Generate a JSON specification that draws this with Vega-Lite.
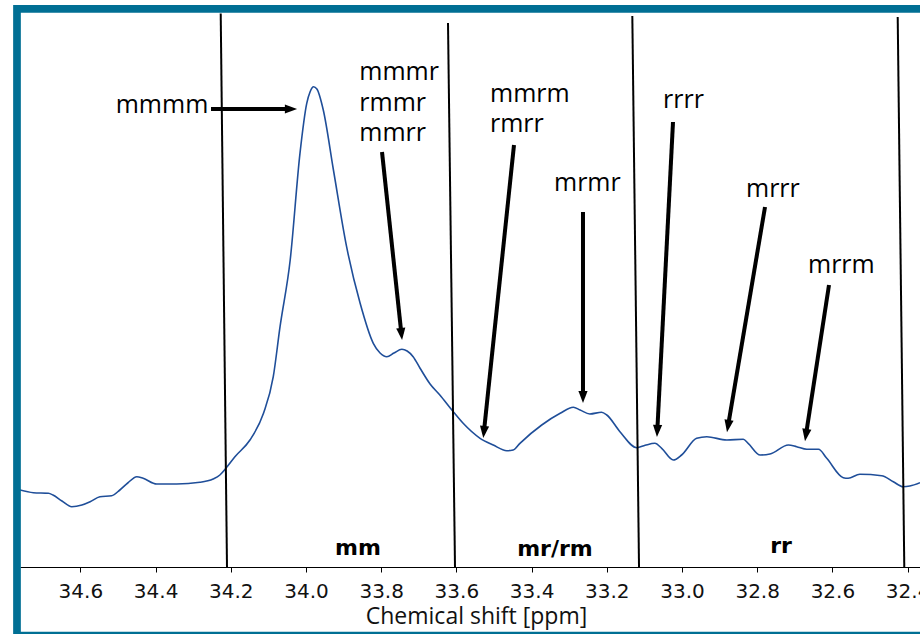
{
  "$schema": "https://vega.github.io/schema/vega-lite/v6.json",
  "autosize": {"type": "none"},
  "width": 900,
  "height": 567,
  "padding": {"left": 20, "top": 0, "right": 0, "bottom": 67},
  "background": "white",
  "config": {"view": {"stroke": null}},
  "datasets": {
    "spectrum": [
      {"x": 34.7606, "y": 7.70}, {"x": 34.725, "y": 7.43}, {"x": 34.685, "y": 7.37}, {"x": 34.673, "y": 7.20},
      {"x": 34.649, "y": 6.60}, {"x": 34.623, "y": 6.03}, {"x": 34.596, "y": 6.20}, {"x": 34.574, "y": 6.53},
      {"x": 34.548, "y": 7.03}, {"x": 34.517, "y": 7.13}, {"x": 34.495, "y": 7.70}, {"x": 34.474, "y": 8.40},
      {"x": 34.450, "y": 9.03}, {"x": 34.433, "y": 8.87}, {"x": 34.397, "y": 8.30}, {"x": 34.344, "y": 8.30},
      {"x": 34.282, "y": 8.47}, {"x": 34.247, "y": 8.80}, {"x": 34.229, "y": 9.20}, {"x": 34.211, "y": 9.97},
      {"x": 34.189, "y": 11.03}, {"x": 34.149, "y": 12.70}, {"x": 34.113, "y": 15.37}, {"x": 34.087, "y": 19.03},
      {"x": 34.069, "y": 24.03}, {"x": 34.042, "y": 30.70}, {"x": 34.016, "y": 41.37}, {"x": 33.998, "y": 46.37},
      {"x": 33.989, "y": 47.53}, {"x": 33.980, "y": 48.03}, {"x": 33.971, "y": 47.80}, {"x": 33.954, "y": 45.70},
      {"x": 33.927, "y": 39.70}, {"x": 33.892, "y": 32.03}, {"x": 33.856, "y": 26.37}, {"x": 33.821, "y": 22.37},
      {"x": 33.803, "y": 21.40}, {"x": 33.785, "y": 21.03}, {"x": 33.766, "y": 21.40}, {"x": 33.745, "y": 21.77},
      {"x": 33.731, "y": 21.60}, {"x": 33.715, "y": 21.03}, {"x": 33.697, "y": 19.90}, {"x": 33.670, "y": 18.30},
      {"x": 33.644, "y": 17.20}, {"x": 33.612, "y": 15.70}, {"x": 33.582, "y": 14.37}, {"x": 33.537, "y": 12.87},
      {"x": 33.502, "y": 12.20}, {"x": 33.466, "y": 11.63}, {"x": 33.449, "y": 11.70}, {"x": 33.431, "y": 12.37},
      {"x": 33.373, "y": 14.20}, {"x": 33.324, "y": 15.37}, {"x": 33.289, "y": 15.97}, {"x": 33.271, "y": 15.70},
      {"x": 33.245, "y": 15.30}, {"x": 33.214, "y": 15.47}, {"x": 33.200, "y": 15.20}, {"x": 33.165, "y": 13.53},
      {"x": 33.120, "y": 11.93}, {"x": 33.098, "y": 12.17}, {"x": 33.072, "y": 12.37}, {"x": 33.054, "y": 11.87},
      {"x": 33.023, "y": 10.70}, {"x": 33.001, "y": 11.20}, {"x": 32.961, "y": 12.87}, {"x": 32.934, "y": 13.03},
      {"x": 32.881, "y": 12.70}, {"x": 32.837, "y": 12.77}, {"x": 32.824, "y": 12.37}, {"x": 32.792, "y": 11.20},
      {"x": 32.766, "y": 11.30}, {"x": 32.717, "y": 12.20}, {"x": 32.695, "y": 12.03}, {"x": 32.668, "y": 11.77},
      {"x": 32.637, "y": 11.77}, {"x": 32.615, "y": 10.87}, {"x": 32.571, "y": 8.93}, {"x": 32.558, "y": 8.87},
      {"x": 32.527, "y": 9.27}, {"x": 32.469, "y": 9.13}, {"x": 32.438, "y": 8.53}, {"x": 32.412, "y": 8.03},
      {"x": 32.394, "y": 8.10}, {"x": 32.367, "y": 8.43}
    ],
    "boundaries": [
      {"x": 34.2268, "y": 55.35, "x2": 34.2101, "y2": 0},
      {"x": 33.6223, "y": 54.4, "x2": 33.6037, "y2": 0},
      {"x": 33.1321, "y": 55.1, "x2": 33.1143, "y2": 0},
      {"x": 32.4263, "y": 55.0, "x2": 32.4088, "y2": 0}
    ],
    "arrows": [
      {"x": 34.2526, "y": 45.8, "x2": 34.0399, "y2": 45.8, "angle": 90},
      {"x": 33.7978, "y": 41.5, "x2": 33.7462, "y2": 23.3, "angle": 173.9},
      {"x": 33.4468, "y": 42.2, "x2": 33.5268, "y2": 13.5, "angle": 186.0},
      {"x": 33.2633, "y": 35.5, "x2": 33.2633, "y2": 17.0, "angle": 180},
      {"x": 33.0239, "y": 44.5, "x2": 33.0657, "y2": 13.6, "angle": 182.9},
      {"x": 32.7792, "y": 36.0, "x2": 32.8776, "y2": 14.09, "angle": 189.6},
      {"x": 32.6090, "y": 28.2, "x2": 32.6704, "y2": 13.19, "angle": 188.7}
    ],
    "leftLabels": [
      {"x": 33.8582, "y": 48.7, "label": "mmmr\nrmmr\nmmrr"},
      {"x": 33.5106, "y": 46.53, "label": "mmrm\nrmrr"},
      {"x": 33.3404, "y": 37.63, "label": "mrmr"},
      {"x": 33.0505, "y": 45.95, "label": "rrrr"},
      {"x": 32.8298, "y": 37.05, "label": "mrrr"},
      {"x": 32.6649, "y": 29.45, "label": "mrrm"}
    ],
    "rightLabels": [
      {"x": 34.2598, "y": 45.43, "label": "mmmm"}
    ],
    "regions": [
      {"x": 33.8617, "y": 1.2, "label": "mm"},
      {"x": 33.3378, "y": 1.1, "label": "mr/rm"},
      {"x": 32.7367, "y": 1.4, "label": "rr"}
    ],
    "frame": [
      {"x": 34.7686, "y": 55.82, "x2": 32.3138, "y2": -6.85}
    ]
  },
  "encoding": {
    "x": {
      "field": "x", "type": "quantitative",
      "scale": {"domain": [32.367, 34.7606], "reverse": true, "nice": false, "zero": false}
    },
    "y": {
      "field": "y", "type": "quantitative",
      "scale": {"domain": [0, 56.7], "nice": false, "zero": false},
      "axis": null
    }
  },
  "layer": [
    {
      "data": {"name": "spectrum"},
      "mark": {"type": "line", "color": "#1f4e99", "strokeWidth": 1.6, "interpolate": "monotone", "clip": true},
      "encoding": {
        "x": {
          "field": "x", "type": "quantitative",
          "scale": {"domain": [32.367, 34.7606], "reverse": true, "nice": false, "zero": false},
          "axis": {
            "title": "Chemical shift [ppm]",
            "values": [32.4, 32.5, 32.6, 32.7, 32.8, 32.9, 33.0, 33.1, 33.2, 33.3, 33.4, 33.5, 33.6, 33.7, 33.8, 33.9, 34.0, 34.1, 34.2, 34.3, 34.4, 34.5, 34.6, 34.7],
            "labelExpr": "round(datum.value * 10) % 2 == 0 ? format(datum.value, '.1f') : ''",
            "grid": false,
            "domainColor": "#000000",
            "domainWidth": 1,
            "tickColor": "#000000",
            "tickSize": 5,
            "tickWidth": 1,
            "labelFont": "DejaVu Sans",
            "labelFontSize": 20,
            "labelColor": "#111111",
            "labelPadding": 9,
            "labelOverlap": false,
            "labelFlush": false,
            "titleFont": "Open Sans",
            "titleFontSize": 23,
            "titleFontWeight": "normal",
            "titleColor": "#111111",
            "titleX": 456,
            "titleY": 56,
            "titleAlign": "center",
            "titleBaseline": "alphabetic",
            "titleAnchor": null
          }
        }
      }
    },
    {
      "data": {"name": "boundaries"},
      "mark": {"type": "rule", "color": "#000000", "strokeWidth": 2},
      "encoding": {"x2": {"field": "x2"}, "y2": {"field": "y2"}}
    },
    {
      "data": {"name": "arrows"},
      "mark": {"type": "rule", "color": "#000000", "strokeWidth": 4},
      "encoding": {"x2": {"field": "x2"}, "y2": {"field": "y2"}}
    },
    {
      "data": {"name": "arrows"},
      "mark": {"type": "point", "shape": "M0,-1L0.75,1L-0.75,1Z", "filled": true, "color": "#000000", "opacity": 1, "size": 150},
      "encoding": {
        "x": {"field": "x2", "type": "quantitative"},
        "y": {"field": "y2", "type": "quantitative"},
        "angle": {"field": "angle", "type": "quantitative", "scale": null}
      }
    },
    {
      "data": {"name": "leftLabels"},
      "mark": {"type": "text", "align": "left", "baseline": "alphabetic", "font": "Open Sans", "fontSize": 25, "lineBreak": "\n", "lineHeight": 30.5, "color": "#000000"},
      "encoding": {"text": {"field": "label"}}
    },
    {
      "data": {"name": "rightLabels"},
      "mark": {"type": "text", "align": "right", "baseline": "alphabetic", "font": "Open Sans", "fontSize": 25, "color": "#000000"},
      "encoding": {"text": {"field": "label"}}
    },
    {
      "data": {"name": "regions"},
      "mark": {"type": "text", "align": "center", "baseline": "alphabetic", "font": "DejaVu Sans", "fontWeight": "bold", "fontSize": 22, "color": "#000000"},
      "encoding": {"text": {"field": "label"}}
    },
    {
      "data": {"name": "frame"},
      "mark": {"type": "rect", "fill": null, "filled": false, "stroke": "#006f94", "strokeWidth": 7.7},
      "encoding": {"x2": {"field": "x2"}, "y2": {"field": "y2"}}
    }
  ]
}
